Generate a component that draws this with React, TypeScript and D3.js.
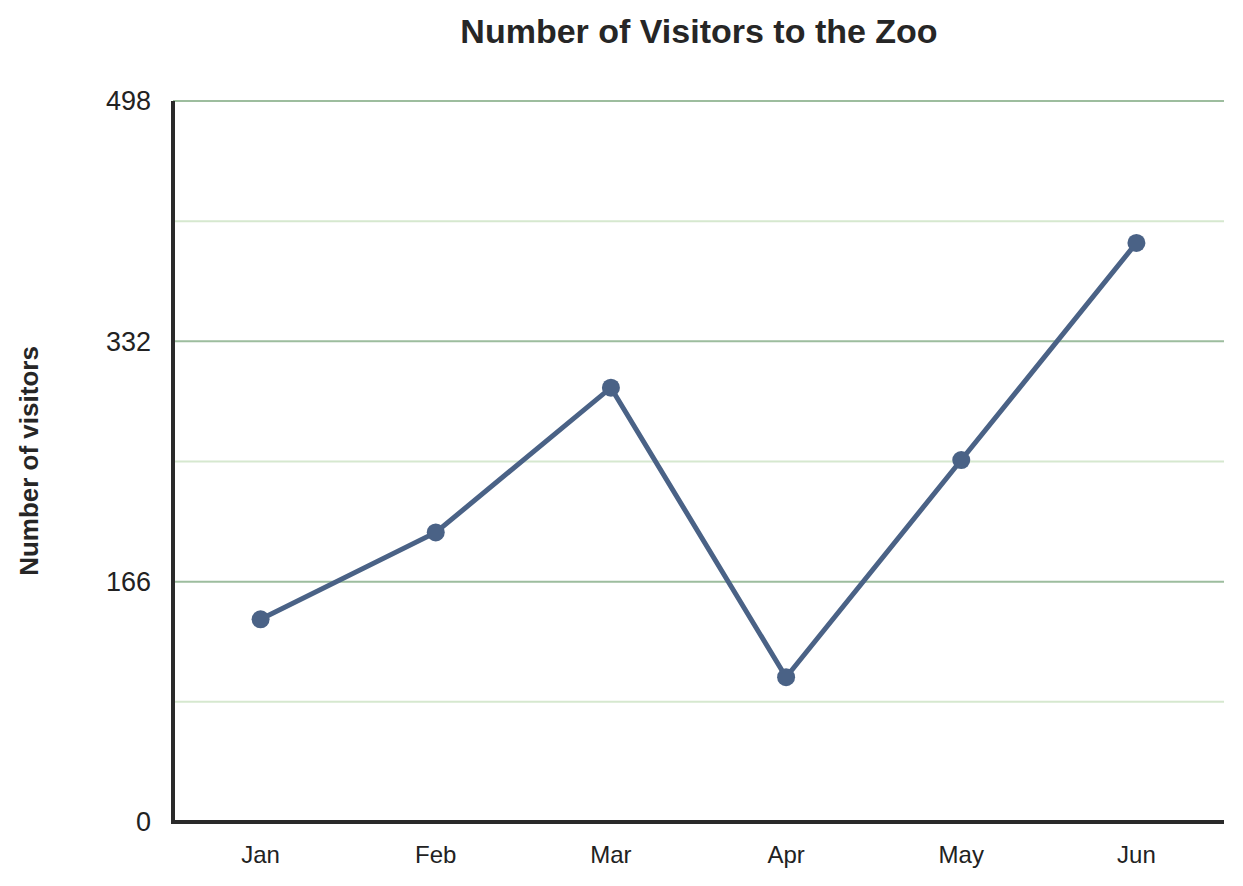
import React, { useEffect, useRef } from 'react';
import * as d3 from 'd3';

const months = ['Jan', 'Feb', 'Mar', 'Apr', 'May', 'Jun'];
const visitors = [140, 200, 300, 100, 250, 400];
const majorTicks = [0, 166, 332, 498];
const minorTicks = [83, 249, 415];

const svgWidth = 1243;
const svgHeight = 886;

const App: React.FC = () => {
  const svgRef = useRef<SVGSVGElement | null>(null);

  useEffect(() => {
    document.body.style.margin = '0';
    const margin = { top: 101, right: 19, bottom: 64, left: 173 };
    const width = svgWidth - margin.left - margin.right;
    const height = svgHeight - margin.top - margin.bottom;
    const font = '"Liberation Sans", Arial, sans-serif';

    const svg = d3.select(svgRef.current);
    svg.selectAll('*').remove();

    const x = d3.scalePoint<string>().domain(months).range([0, width]).padding(0.5);
    const y = d3.scaleLinear().domain([0, 498]).range([height, 0]);

    const g = svg.append('g').attr('transform', `translate(${margin.left},${margin.top})`);

    // 网格线
    g.selectAll('.minor')
      .data(minorTicks)
      .enter()
      .append('line')
      .attr('x1', 0)
      .attr('x2', width)
      .attr('y1', (d) => y(d))
      .attr('y2', (d) => y(d))
      .attr('stroke', '#d6e8cf')
      .attr('stroke-width', 2);

    g.selectAll('.major')
      .data(majorTicks.filter((d) => d > 0))
      .enter()
      .append('line')
      .attr('x1', 0)
      .attr('x2', width)
      .attr('y1', (d) => y(d))
      .attr('y2', (d) => y(d))
      .attr('stroke', '#9dbd9e')
      .attr('stroke-width', 2);

    // Y轴刻度
    g.selectAll('.ytick')
      .data(majorTicks)
      .enter()
      .append('text')
      .attr('x', -22)
      .attr('y', (d) => y(d))
      .attr('dy', '0.35em')
      .attr('text-anchor', 'end')
      .attr('font-family', font)
      .attr('font-size', 27)
      .attr('fill', '#222')
      .text((d) => d);

    // X轴刻度
    g.selectAll('.xtick')
      .data(months)
      .enter()
      .append('text')
      .attr('x', (d) => x(d) as number)
      .attr('y', height + 41)
      .attr('text-anchor', 'middle')
      .attr('font-family', font)
      .attr('font-size', 24)
      .attr('fill', '#222')
      .text((d) => d);

    // 坐标轴
    g.append('path')
      .attr('d', `M0,0V${height}H${width}`)
      .attr('fill', 'none')
      .attr('stroke', '#2a2a2a')
      .attr('stroke-width', 4);

    // 折线
    const line = d3
      .line<number>()
      .x((_, i) => x(months[i]) as number)
      .y((d) => y(d));

    g.append('path')
      .datum(visitors)
      .attr('d', line)
      .attr('fill', 'none')
      .attr('stroke', '#4a6286')
      .attr('stroke-width', 5);

    g.selectAll('.dot')
      .data(visitors)
      .enter()
      .append('circle')
      .attr('cx', (_, i) => x(months[i]) as number)
      .attr('cy', (d) => y(d))
      .attr('r', 9)
      .attr('fill', '#4a6286');

    // 标题
    svg
      .append('text')
      .attr('x', 699)
      .attr('y', 43)
      .attr('text-anchor', 'middle')
      .attr('font-family', font)
      .attr('font-weight', 'bold')
      .attr('font-size', 34)
      .attr('fill', '#262626')
      .text('Number of Visitors to the Zoo');

    // Y轴标签
    svg
      .append('text')
      .attr('transform', 'rotate(-90)')
      .attr('x', -461)
      .attr('y', 38)
      .attr('text-anchor', 'middle')
      .attr('font-family', font)
      .attr('font-weight', 'bold')
      .attr('font-size', 26)
      .attr('fill', '#262626')
      .text('Number of visitors');
  }, []);

  return <svg width={svgWidth} height={svgHeight} ref={svgRef} style={{ display: 'block' }}></svg>;
};

export default App;
